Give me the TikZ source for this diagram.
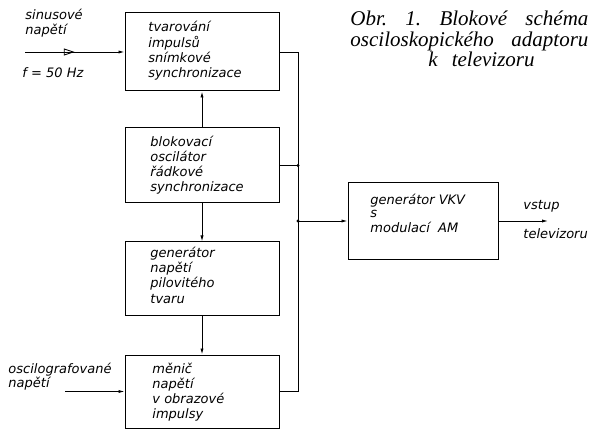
\documentclass[tikz,border=0pt]{standalone}
\usepackage{fontspec}
\setmainfont{DejaVu Sans}[ItalicFont={DejaVu Sans Oblique}]
\newfontfamily\titlefont{Liberation Serif}
\usetikzlibrary{arrows.meta,decorations.markings}
\newcommand{\lbl}[2][15]{{\fontsize{13}{#1}\selectfont\itshape\begin{tabular}[t]{@{}l@{}}#2\end{tabular}}}
\begin{document}
\begin{tikzpicture}[x=1pt,y=-1pt,
  font=\fontsize{13}{15}\selectfont\itshape,
  line width=0.9pt,
  >={Latex[length=6pt,width=3.2pt]},
  blk/.style={draw, line width=1pt, minimum width=154pt, inner sep=0pt},
  txt/.style={anchor=base west, inner sep=0pt, align=left},
  junct/.style={circle, fill, inner sep=0pt, minimum size=3.2pt},
  opentri/.style={decoration={markings, mark=at position 0.5 with {\arrow{Triangle[open,length=11pt,width=7pt]}}}, postaction={decorate}}]
\useasboundingbox (0,0) rectangle (599,430);
% blocks
\node[blk, minimum height=78pt] (b1) at (202,52) {};
\node[blk, minimum height=75pt] (b2) at (202,165.5) {};
\node[blk, minimum height=73pt] (b3) at (202,278.5) {};
\node[blk, minimum height=73pt] (b4) at (202,391.5) {};
\node[blk, minimum width=150pt, minimum height=76pt] (b5) at (423,221) {};
% block texts
\node[txt] (t1) at (148,32) {\lbl{tvarování\\impulsů\\snímkové\\synchronizace}};
\node[txt] (t2) at (150,147) {\lbl{blokovací\\oscilátor\\řádkové\\synchronizace}};
\node[txt] (t3) at (150,258) {\lbl{generátor\\napětí\\pilovitého\\tvaru}};
\node[txt] (t4) at (152,373) {\lbl{měnič\\napětí\\v obrazové\\impulsy}};
\node[txt] (t5) at (370,205) {\lbl[13]{generátor VKV\\s\\modulací\ \ AM}};
% outside labels
\node[txt] (l1) at (25,20) {\lbl[13]{sinusové\\napětí}};
\node[txt] (l2) at (22,78) {f = 50 Hz};
\node[txt] (l3) at (8,373) {\lbl[12.5]{oscilografované\\napětí}};
\node[txt] (l4) at (523,210) {vstup};
\node[txt] (l5) at (523,238) {televizoru};
% title
\node[anchor=base west, inner sep=0pt, font=\titlefont\fontsize{21}{19.5}\selectfont\itshape] (title) at (350,26)
  {\begin{tabular}[t]{@{}l@{}}\hbox to 238pt{Obr.\hfill 1.\hfill Blokové\hfill schéma}\\
   \hbox to 238pt{osciloskopického\hfill adaptoru}\\ \hbox to 238pt{\hskip 78pt k\hskip 14pt televizoru\hfill}\end{tabular}};
% coordinates
\coordinate (in1) at (25,52);
\coordinate (in2) at (65,391.5);
\coordinate (j1) at (298,165.5);
\coordinate (j2) at (298,221);
\coordinate (out) at (548,221);
% connectors
\draw[->, opentri] (in1) -- (b1.west);
\draw[->] (in2) -- (b4.west);
\draw[->] (b2.north) -- (b1.south);
\draw[->] (b2.south) -- (b3.north);
\draw[->] (b3.south) -- (b4.north);
\draw (b1.east) -| (j2);
\draw (b4.east) -| (j2);
\draw (b2.east) -- (j1);
\draw[->] (j2) -- (b5.west);
\draw[->] (b5.east) -- (out);
\node[junct] (d1) at (j1) {};
\node[junct] (d2) at (j2) {};
\end{tikzpicture}
\end{document}
